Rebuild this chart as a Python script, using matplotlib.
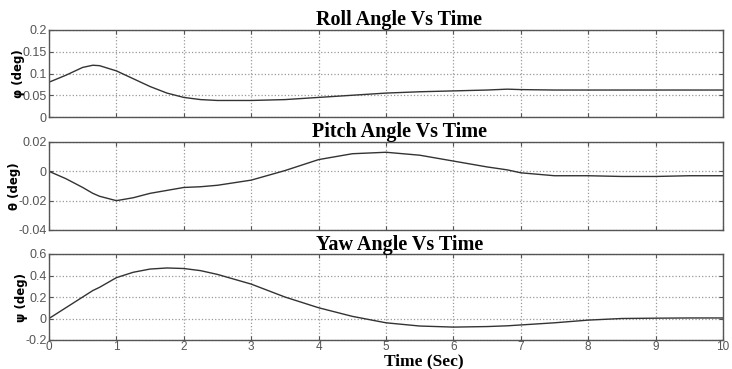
import matplotlib.pyplot as plt

# values
time = [0, 0.25, 0.5, 0.65, 0.75, 1, 1.25, 1.5, 1.75, 2, 2.25, 2.5, 3, 3.5, 4,
        4.5, 5, 5.5, 6, 6.5, 6.8, 7, 7.5, 8, 8.5, 9, 9.5, 10]

roll = [0.08, 0.096, 0.114, 0.119, 0.118, 0.106, 0.088, 0.07, 0.055, 0.045, 0.04,
        0.038, 0.038, 0.04, 0.045, 0.05, 0.055, 0.058, 0.06, 0.062, 0.064, 0.063,
        0.062, 0.062, 0.062, 0.062, 0.062, 0.062]

pitch = [0.0, -0.005, -0.011, -0.015, -0.017, -0.02, -0.018, -0.015, -0.013,
         -0.011, -0.0105, -0.0095, -0.006, 0.0005, 0.008, 0.012, 0.013, 0.011,
         0.007, 0.003, 0.001, -0.001, -0.003, -0.003, -0.0035, -0.0035, -0.003,
         -0.003]

yaw = [0.0, 0.1, 0.2, 0.26, 0.29, 0.38, 0.43, 0.46, 0.47, 0.465, 0.445, 0.41,
       0.32, 0.2, 0.1, 0.02, -0.04, -0.07, -0.08, -0.075, -0.068, -0.06, -0.04,
       -0.015, 0.0, 0.003, 0.005, 0.005]

panels = [
    ("Roll Angle Vs Time", "\u03c6 (deg)", roll, (0, 0.2), [0, 0.05, 0.1, 0.15, 0.2],
     ["0", "0.05", "0.1", "0.15", "0.2"]),
    ("Pitch Angle Vs Time", "\u03b8 (deg)", pitch, (-0.04, 0.02), [-0.04, -0.02, 0, 0.02],
     ["-0.04", "-0.02", "0", "0.02"]),
    ("Yaw Angle Vs Time", "\u03c8 (deg)", yaw, (-0.2, 0.6), [-0.2, 0, 0.2, 0.4, 0.6],
     ["-0.2", "0", "0.2", "0.4", "0.6"]),
]

fig = plt.figure(figsize=(7.32, 3.69), dpi=100)
tops = [30, 142, 254]
bottoms = [117, 230, 340]
W, H = 732.0, 369.0

for i, (title, ylab, vals, ylim, yt, ytl) in enumerate(panels):
    ax = fig.add_axes([49 / W, 1 - bottoms[i] / H, (723 - 49) / W,
                       (bottoms[i] - tops[i]) / H])
    ax.plot(time, vals, color="#333333", linewidth=1.0)
    ax.set_xlim(0, 10)
    ax.set_ylim(*ylim)
    ax.set_xticks(range(11))
    ax.set_yticks(yt)
    ax.set_yticklabels(ytl)
    if i < 2:
        ax.set_xticklabels([])
    ax.grid(True, linestyle=":", color="#999999", linewidth=0.9)
    ax.tick_params(direction="in", top=True, right=True, length=3,
                   labelsize=9, colors="#555555", pad=1.5)
    ax.tick_params(axis="x", labelsize=8.5, pad=1)
    for lbl in ax.get_xticklabels() + ax.get_yticklabels():
        lbl.set_fontfamily("Liberation Sans")
    for s in ax.spines.values():
        s.set_color("#555555")
        s.set_linewidth(1.0)
    ax.set_title(title, fontfamily="Liberation Serif", fontweight="bold",
                 fontsize=14.5, pad=3, x=0.52)
    ax.set_ylabel(ylab, fontfamily="DejaVu Sans", fontweight="bold",
                  fontsize=8.5, labelpad=-2)

# x axis label placed by hand so it fits under the tick labels
fig.text(424 / W, 1 - 365 / H, "Time (Sec)", ha="center", va="baseline",
         fontfamily="Liberation Serif", fontweight="bold", fontsize=12.5)

fig.savefig("out.png", dpi=100)
